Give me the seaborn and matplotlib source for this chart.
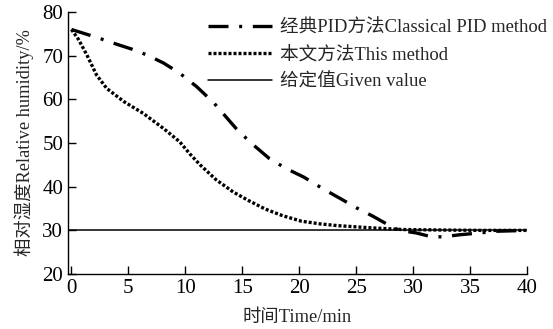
import numpy as np
import pandas as pd
import matplotlib.pyplot as plt
import seaborn as sns

# data
time_pid = [0, 2.2, 4.0, 5.3, 6.6, 8.1, 9.5, 11.0, 12.5, 13.3, 14.6, 16.0, 17.4, 18.9,
            20.4, 22.1, 23.6, 25.0, 26.5, 28.0, 28.8, 30.3, 31.5, 32.6, 34.1, 35.8, 37.3, 40]
rh_pid = [76, 74.2, 72.6, 71.5, 70.2, 68.3, 66.0, 62.9, 59.2, 56.8, 52.9, 49.5, 46.4, 44.1,
          42.2, 39.5, 37.3, 35.2, 33.2, 31.0, 30.0, 29.4, 28.6, 28.5, 29.0, 29.4, 29.8, 30]

time_ours = [0, 0.6, 1.35, 2.2, 3.1, 4.6, 6.3, 8.1, 9.5, 10.4, 11.3, 12.7, 14.2, 15.5,
             17.0, 18.5, 20.2, 21.8, 23.3, 26.2, 29, 32, 36, 40]
rh_ours = [76, 73.8, 70.2, 65.6, 62.5, 59.5, 56.8, 53.3, 50.3, 47.5, 45.0, 41.6, 38.8, 36.9,
           34.9, 33.4, 32.1, 31.5, 31.1, 30.6, 30.2, 30.1, 30, 30]

given_value = 30
x_range = [-0.3, 40]

sns.set_theme(style='ticks')
plt.rcParams['font.family'] = ['Liberation Serif', 'Noto Sans CJK SC']
plt.rcParams['xtick.direction'] = 'in'
plt.rcParams['ytick.direction'] = 'in'

df_pid = pd.DataFrame({'t': time_pid, 'rh': rh_pid})
df_ours = pd.DataFrame({'t': time_ours, 'rh': rh_ours})
df_set = pd.DataFrame({'t': x_range, 'rh': [given_value] * 2})

fig, ax = plt.subplots(figsize=(5.53, 3.29), dpi=100)
sns.lineplot(data=df_set, x='t', y='rh', ax=ax, color='black', lw=1.1,
             label='给定值Given value')
sns.lineplot(data=df_pid, x='t', y='rh', ax=ax, color='black', lw=2.4,
             linestyle=(0, (6, 3.2, 0.9, 3.2)), label='经典PID方法Classical PID method')
sns.lineplot(data=df_ours, x='t', y='rh', ax=ax, color='black', lw=2.4,
             linestyle=(0, (0.9, 0.6)), label='本文方法This method')

ax.set_xlim(-0.3, 40)
ax.set_ylim(20, 80)
ax.set_xticks(range(0, 41, 5))
ax.set_yticks(range(20, 81, 10))
ax.tick_params(labelsize=15, length=6, width=1, colors='black')
ax.set_xlabel('时间Time/min', fontsize=13.2, labelpad=8)
ax.set_ylabel('相对湿度Relative humidity/%', fontsize=13.2, labelpad=6)
sns.despine(ax=ax)
for s in ['left', 'bottom']:
    ax.spines[s].set_color('black')
    ax.spines[s].set_linewidth(1)

h, l = ax.get_legend_handles_labels()
order = [1, 2, 0]
ax.legend([h[i] for i in order], [l[i] for i in order], loc='upper right',
          frameon=False, fontsize=13.4, handlelength=3.4, handletextpad=0.45,
          borderaxespad=0.0, labelspacing=0.5, bbox_to_anchor=(1.06, 1.0))

plt.subplots_adjust(left=0.123, right=0.953, top=0.9635, bottom=0.167)
plt.savefig('out.png', dpi=100)
